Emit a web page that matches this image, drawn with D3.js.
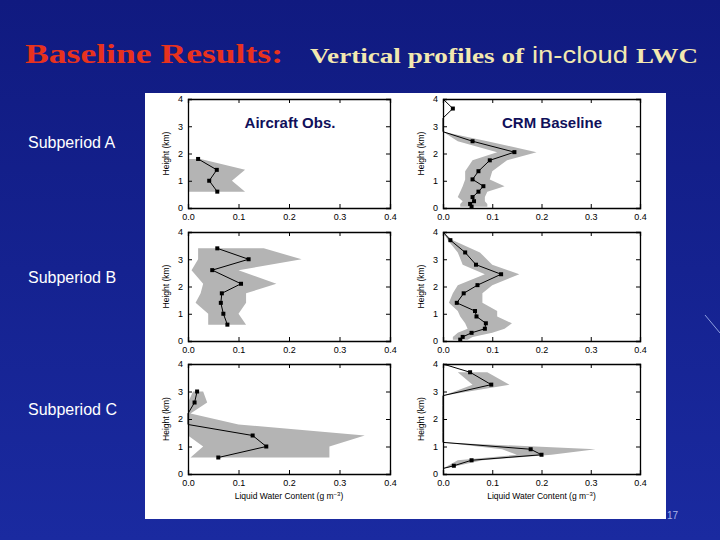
<!DOCTYPE html><html><head><meta charset="utf-8"><script src="https://cdn.jsdelivr.net/npm/d3@7"></script>
<style>body{margin:0;background:#000}</style></head><body><script>
const subperiods=["Subperiod A","Subperiod B","Subperiod C"];
const columns=["Aircraft Obs.","CRM Baseline"];
const xTicks=[0,0.1,0.2,0.3,0.4], yTicks=[0,1,2,3,4];
// each panel: heights, lwc (line), lo/hi (shaded range; null = gap)
const aObsH=[1.8,1.4,1.0,0.6], aObsV=[0.02,0.057,0.042,0.058], aObsLo=[0,0,0,0], aObsHi=[0.025,0.113,0.087,0.113];
const aCrmH=[4.0,3.65,3.3,2.8,2.45,2.05,1.75,1.35,1.05,0.8,0.6,0.4,0.25,0.15,0.05];
const aCrmV=[0,0.02,0,0,0.06,0.145,0.095,0.072,0.06,0.082,0.072,0.06,0.063,0.055,0.058];
const aCrmLo=[null,null,null,0,0.03,0.11,0.06,0.045,0.045,0.04,0.035,0.03,0.04,0.035,0.035];
const aCrmHi=[null,null,null,0,0.09,0.19,0.13,0.1,0.095,0.125,0.09,0.085,0.085,0.09,0.09];
const bObsH=[3.4,3.0,2.6,2.1,1.75,1.4,1.0,0.6], bObsV=[0.058,0.12,0.048,0.105,0.067,0.065,0.07,0.078];
const bObsLo=[0.02,0.02,0.007,0.03,0.025,0.015,0.04,0.04], bObsHi=[0.15,0.225,0.1,0.175,0.115,0.115,0.1,0.115];
const bCrmH=[4.0,3.7,3.25,2.8,2.45,2.05,1.75,1.4,1.1,0.9,0.65,0.45,0.3,0.15,0.05];
const bCrmV=[0,0.015,0.045,0.067,0.118,0.07,0.042,0.028,0.065,0.068,0.087,0.085,0.058,0.04,0.035];
const bCrmLo=[0,0.01,0.03,0.04,0.085,0.03,0.02,0.012,0.03,0.035,0.045,0.05,0.03,0.02,0.02];
const bCrmHi=[0,0.02,0.075,0.1,0.155,0.1,0.08,0.08,0.11,0.11,0.14,0.125,0.1,0.06,0.05];
const cObsH=[3.0,2.6,2.2,1.8,1.4,1.0,0.6], cObsV=[0.018,0.013,0,0,0.128,0.155,0.06];
const cObsLo=[0.01,0,0,0,0,0.03,0.005], cObsHi=[0.03,0.038,0.005,0.1,0.35,0.28,0.28];
const cCrmH=[4.0,3.7,3.25,2.85,2.5,2.1,1.5,1.15,0.9,0.7,0.5,0.3,0.2];
const cCrmV=[0,0.055,0.098,0,0,0,0,0,0.178,0.2,0.058,0.022,0];
const cCrmLo=[null,0.03,0.06,0,null,null,null,0,0.12,0.15,0.03,0.01,0];
const cCrmHi=[null,0.09,0.135,0,null,null,null,0,0.31,0.22,0.08,0.03,0];
const panels=[[aObsH,aObsV,aObsLo,aObsHi],[aCrmH,aCrmV,aCrmLo,aCrmHi],[bObsH,bObsV,bObsLo,bObsHi],[bCrmH,bCrmV,bCrmLo,bCrmHi],[cObsH,cObsV,cObsLo,cObsHi],[cCrmH,cCrmV,cCrmLo,cCrmHi]];

const svg=d3.select("body").append("svg").attr("width",720).attr("height",540);
const g=svg.append("defs").append("linearGradient").attr("id","bg").attr("x1",0).attr("y1",0).attr("x2",0).attr("y2",1);
g.append("stop").attr("offset",0).attr("stop-color","#101a80");
g.append("stop").attr("offset",1).attr("stop-color","#1a2aa0");
svg.append("rect").attr("width",720).attr("height",540).attr("fill","url(#bg)");
svg.append("line").attr("x1",705).attr("y1",315).attr("x2",720).attr("y2",333).attr("stroke","#8fa0e0").attr("stroke-width",1);
const titleParts=[
 {s:"Baseline Results:",x:25,w:258,f:"Liberation Serif",b:"bold",z:28,c:"#e8321e"},
 {s:"Vertical profiles of",x:310,w:214,f:"Liberation Serif",b:"bold",z:22,c:"#f2e8b0"},
 {s:"in-cloud",x:532,w:96,f:"Liberation Sans",b:"normal",z:24,c:"#f2e8b0"},
 {s:"LWC",x:636,w:62,f:"Liberation Serif",b:"bold",z:22,c:"#f2e8b0"}];
titleParts.forEach(p=>svg.append("text").attr("x",p.x).attr("y",63).text(p.s).attr("textLength",p.w).attr("lengthAdjust","spacingAndGlyphs")
 .attr("font-family",p.f).attr("font-weight",p.b).attr("font-size",p.z).attr("fill",p.c));
svg.append("rect").attr("x",145).attr("y",93).attr("width",521).attr("height",426).attr("fill","#fff");
subperiods.forEach((s,i)=>svg.append("text").attr("x",28).attr("y",[148,283,415][i]).text(s).attr("font-family","Liberation Sans").attr("font-size",16).attr("fill","#fff"));
svg.append("text").attr("x",667).attr("y",519).text("17").attr("font-family","Liberation Sans").attr("font-size",10).attr("fill","#aab4e8");
const colX=[[188,390],[443,640]], rowY=[[99,208],[232,341],[364,474]];
panels.forEach((p,k)=>{
 const r=Math.floor(k/2), c=k%2;
 const x=d3.scaleLinear().domain([0,0.4]).range(colX[c]);
 const y=d3.scaleLinear().domain([0,4]).range([rowY[r][1],rowY[r][0]]);
 const [H,V,Lo,Hi]=p;
 const pts=H.map((h,i)=>({h,v:V[i],lo:Lo[i],hi:Hi[i]}));
 svg.append("path").datum(pts).attr("fill","#b4b4b4")
  .attr("d",d3.area().defined(d=>d.lo!=null).y(d=>y(d.h)).x0(d=>x(d.lo)).x1(d=>x(d.hi)));
 const ax=svg.append("g").attr("font-family","Liberation Sans");
 ax.append("g").attr("transform",`translate(0,${rowY[r][1]})`).call(d3.axisBottom(x).tickValues(xTicks).tickFormat(d3.format(".1f")).tickSize(-4).tickPadding(6));
 ax.append("g").attr("transform",`translate(0,${rowY[r][0]})`).call(d3.axisTop(x).tickValues(xTicks).tickFormat("").tickSize(-4));
 ax.append("g").attr("transform",`translate(${colX[c][0]},0)`).call(d3.axisLeft(y).tickValues(yTicks).tickFormat(d3.format("d")).tickSize(-4).tickPadding(5));
 ax.append("g").attr("transform",`translate(${colX[c][1]},0)`).call(d3.axisRight(y).tickValues(yTicks).tickFormat("").tickSize(-4));
 ax.selectAll("text").attr("font-size",9).attr("fill","#000");
 ax.selectAll(".domain").attr("stroke","#000").attr("stroke-width",1.3);
 svg.append("text").attr("transform",`translate(${colX[c][0]-19},${(rowY[r][0]+rowY[r][1])/2}) rotate(-90)`).attr("text-anchor","middle").text("Height (km)").attr("font-family","Liberation Sans").attr("font-size",8.5);
 if(r==2){const tt=svg.append("text").attr("x",(colX[c][0]+colX[c][1])/2).attr("y",rowY[r][1]+25).attr("text-anchor","middle").attr("font-family","Liberation Sans").attr("font-size",8.5).text("Liquid Water Content (g m");
  tt.append("tspan").text("−3").attr("font-size",6).attr("dy",-3);tt.append("tspan").text(")").attr("dy",3);}
 svg.append("path").datum(pts).attr("fill","none").attr("stroke","#000").attr("stroke-width",1).attr("d",d3.line().x(d=>x(d.v)).y(d=>y(d.h)));
 svg.selectAll(null).data(pts.filter(d=>d.v>0)).enter().append("rect").attr("x",d=>x(d.v)-2).attr("y",d=>y(d.h)-2).attr("width",4).attr("height",4).attr("fill","#000");
});
columns.forEach((s,i)=>svg.append("text").attr("x",[290,552][i]).attr("y",128).attr("text-anchor","middle").text(s).attr("font-family","Liberation Sans").attr("font-weight","bold").attr("font-size",15).attr("fill","#10105a"));
</script></body></html>
